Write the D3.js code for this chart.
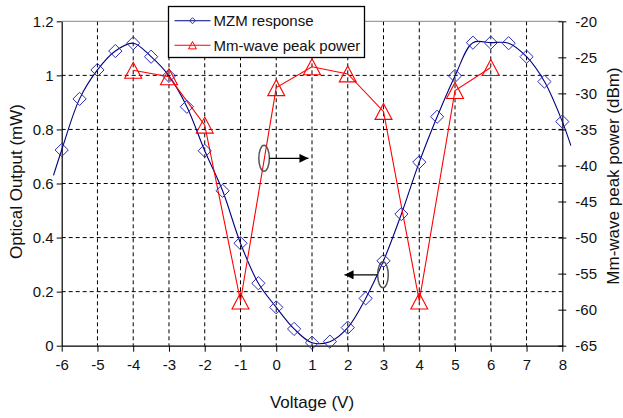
<!DOCTYPE html>
<html>
<head>
<meta charset="utf-8">
<script src="https://cdn.jsdelivr.net/npm/d3@7"></script>
<style>
  body { margin: 0; background: #fff; }
  text { font-family: "Liberation Sans", Arial, sans-serif; fill: #111; }
</style>
</head>
<body>
<svg id="chart"></svg>
<script>
// Chart size and plot margins
const width = 623;
const height = 418;
const margin = { top: 21.3, right: 60.7, bottom: 72.3, left: 61.7 };

// MZM response (left axis, mW)
const mzmVoltage = [-6, -5.5, -5, -4.5, -4, -3.5, -3, -2.5, -2, -1.5, -1, -0.5, 0, 0.5, 1,
                    1.5, 2, 2.5, 3, 3.5, 4, 4.5, 5, 5.5, 6, 6.5, 7, 7.5, 8];
const mzmOutput = [0.724, 0.913, 1.02, 1.09, 1.119, 1.069, 0.998, 0.884, 0.721, 0.573, 0.379, 0.231, 0.142, 0.062, 0.011,
                   0.015, 0.067, 0.175, 0.314, 0.487, 0.679, 0.847, 0.998, 1.121, 1.121, 1.119, 1.069, 0.977, 0.829];
// the smoothed curve runs a little past the first and last point
const mzmCurveStart = [-6.23, 0.63];
const mzmCurveEnd = [8.24, 0.74];

// Mm-wave peak power (right axis, dBm)
const peakVoltage = [-4, -3, -2, -1, 0, 1, 2, 3, 4, 5, 6];
const peakPower = [-26.8, -27.7, -34.4, -58.8, -29.2, -26.3, -27.3, -32.5, -58.8, -29.6, -26.4];

// Ticks
const xTicks = [-6, -5, -4, -3, -2, -1, 0, 1, 2, 3, 4, 5, 6, 7, 8];
const yLeftTicks = [0, 0.2, 0.4, 0.6, 0.8, 1, 1.2];
const yRightTicks = [-65, -60, -55, -50, -45, -40, -35, -30, -25, -20];

// Ellipse + arrow callouts, in data coordinates (voltage, mW)
const callouts = [
  { cx: -0.34, cy: 0.693, toX: 0.9 },
  { cx: 2.985, cy: 0.262, toX: 1.91 }
];

const svg = d3.select("#chart")
    .attr("width", width)
    .attr("height", height);

const x = d3.scaleLinear().domain([-6, 8]).range([margin.left, width - margin.right]);
const yL = d3.scaleLinear().domain([0, 1.2]).range([height - margin.bottom, margin.top]);
const yR = d3.scaleLinear().domain([-65, -20]).range([height - margin.bottom, margin.top]);

const x0 = x.range()[0], x1 = x.range()[1];
const yTop = yL.range()[1], yBot = yL.range()[0];

// plain hyphen for negatives, like the original
const plain = d => String(d);

// Arrow marker
svg.append("defs").append("marker")
    .attr("id", "arrow")
    .attr("viewBox", "0 0 10 10")
    .attr("refX", 10).attr("refY", 5)
    .attr("markerWidth", 10).attr("markerHeight", 9)
    .attr("markerUnits", "userSpaceOnUse")
    .attr("orient", "auto")
    .append("path").attr("d", "M0,0L10,5L0,10Z").attr("fill", "#000");

// Grid lines (dashed)
svg.append("g").selectAll("line")
    .data(xTicks.slice(1, -1))
    .enter().append("line")
    .attr("x1", d => x(d)).attr("x2", d => x(d))
    .attr("y1", yTop).attr("y2", yBot)
    .attr("stroke", "#000").attr("stroke-dasharray", "4,3");

svg.append("g").selectAll("line")
    .data(yLeftTicks.slice(1, -1))
    .enter().append("line")
    .attr("x1", x0).attr("x2", x1)
    .attr("y1", d => yL(d)).attr("y2", d => yL(d))
    .attr("stroke", "#000").attr("stroke-dasharray", "4,3");

// Top border of the plot area
svg.append("line")
    .attr("x1", x0).attr("x2", x1).attr("y1", yTop).attr("y2", yTop)
    .attr("stroke", "#888");

// Axes
const xAxis = svg.append("g")
    .attr("transform", `translate(0,${yBot})`)
    .call(d3.axisBottom(x).tickValues(xTicks).tickSize(6).tickSizeOuter(0).tickPadding(6).tickFormat(plain));

const leftAxis = svg.append("g")
    .attr("transform", `translate(${x0},0)`)
    .call(d3.axisLeft(yL).tickValues(yLeftTicks).tickSize(5).tickSizeOuter(0).tickPadding(3).tickFormat(plain));

const rightAxis = svg.append("g")
    .attr("transform", `translate(${x1},0)`)
    .call(d3.axisRight(yR).tickValues(yRightTicks).tickSize(4).tickSizeOuter(0).tickPadding(9).tickFormat(plain));
rightAxis.selectAll(".tick line").attr("x1", -4);

[xAxis, leftAxis, rightAxis].forEach(g => {
  g.selectAll("path.domain").attr("stroke", "#000").attr("stroke-width", 1.2);
  g.selectAll(".tick line").attr("stroke", "#000");
  g.selectAll(".tick text")
      .style("font-family", "'Liberation Sans', Arial, sans-serif")
      .style("font-size", "15px")
      .attr("fill", "#111");
});
xAxis.selectAll(".tick text").attr("dy", "0.85em");

// Axis titles
svg.append("text")
    .attr("x", (x0 + x1) / 2).attr("y", 408)
    .attr("text-anchor", "middle")
    .style("font-size", "17px")
    .text("Voltage (V)");

svg.append("text")
    .attr("transform", "translate(22,181.5) rotate(-90)")
    .attr("text-anchor", "middle")
    .style("font-size", "17px")
    .text("Optical Output (mW)");

svg.append("text")
    .attr("transform", "translate(619,176) rotate(-90)")
    .attr("text-anchor", "middle")
    .style("font-size", "17px")
    .text("Mm-wave peak power (dBm)");

// MZM smoothed line
const mzmPts = [mzmCurveStart].concat(mzmVoltage.map((v, i) => [v, mzmOutput[i]]), [mzmCurveEnd]);
svg.append("path")
    .datum(mzmPts)
    .attr("fill", "none")
    .attr("stroke", "#000080")
    .attr("stroke-width", 1.1)
    .attr("d", d3.line().x(d => x(d[0])).y(d => yL(d[1])).curve(d3.curveCatmullRom));

// Mm-wave line
const peakPts = peakVoltage.map((v, i) => [v, peakPower[i]]);
svg.append("path")
    .datum(peakPts)
    .attr("fill", "none")
    .attr("stroke", "#ff0000")
    .attr("stroke-width", 1.1)
    .attr("d", d3.line().x(d => x(d[0])).y(d => yR(d[1])));

// Marker shapes
const diamond = s => `M0,${-s}L${s},0L0,${s}L${-s},0Z`;
const triangle = s => `M0,${-s}L${s * 1.06},${s}L${-s * 1.06},${s}Z`;

svg.append("g").selectAll("path")
    .data(mzmVoltage.map((v, i) => [v, mzmOutput[i]]))
    .enter().append("path")
    .attr("transform", d => `translate(${x(d[0])},${yL(d[1])})`)
    .attr("d", diamond(6.6))
    .attr("fill", "none")
    .attr("stroke", "#2b2bb8")
    .attr("stroke-width", 1);

svg.append("g").selectAll("path")
    .data(peakPts)
    .enter().append("path")
    .attr("transform", d => `translate(${x(d[0])},${yR(d[1])})`)
    .attr("d", triangle(8))
    .attr("fill", "none")
    .attr("stroke", "#ff0000")
    .attr("stroke-width", 1.1);

// Callouts: ellipse around a curve and an arrow to its axis
const co = svg.append("g");
callouts.forEach(c => {
  co.append("ellipse")
      .attr("cx", x(c.cx)).attr("cy", yL(c.cy))
      .attr("rx", 5.3).attr("ry", 13)
      .attr("fill", "none").attr("stroke", "#555").attr("stroke-width", 1.5);
  const dir = c.toX > c.cx ? 1 : -1;
  co.append("line")
      .attr("x1", x(c.cx) + dir * 5.3).attr("y1", yL(c.cy))
      .attr("x2", x(c.toX)).attr("y2", yL(c.cy))
      .attr("stroke", "#000").attr("stroke-width", 1.2)
      .attr("marker-end", "url(#arrow)");
});

// Legend
const legend = svg.append("g").attr("transform", "translate(168.5,6.5)");
legend.append("rect")
    .attr("width", 196).attr("height", 51)
    .attr("fill", "#fff").attr("stroke", "#000").attr("stroke-width", 1.3);

const legendItems = [
  { label: "MZM response", color: "#000080", mark: "#2b2bb8", shape: diamond(3) },
  { label: "Mm-wave peak power", color: "#ff0000", mark: "#ff0000", shape: triangle(3.7) }
];
const item = legend.selectAll(".item")
    .data(legendItems)
    .enter().append("g")
    .attr("transform", (d, i) => `translate(0,${14.2 + i * 24.5})`);
item.append("line")
    .attr("x1", 6).attr("x2", 42)
    .attr("stroke", d => d.color).attr("stroke-width", 1.1);
item.append("path")
    .attr("transform", "translate(24,0)")
    .attr("d", d => d.shape)
    .attr("fill", "none").attr("stroke", d => d.mark);
item.append("text")
    .attr("x", 45).attr("y", 5.5)
    .style("font-size", "15px")
    .text(d => d.label);
</script>
</body>
</html>
